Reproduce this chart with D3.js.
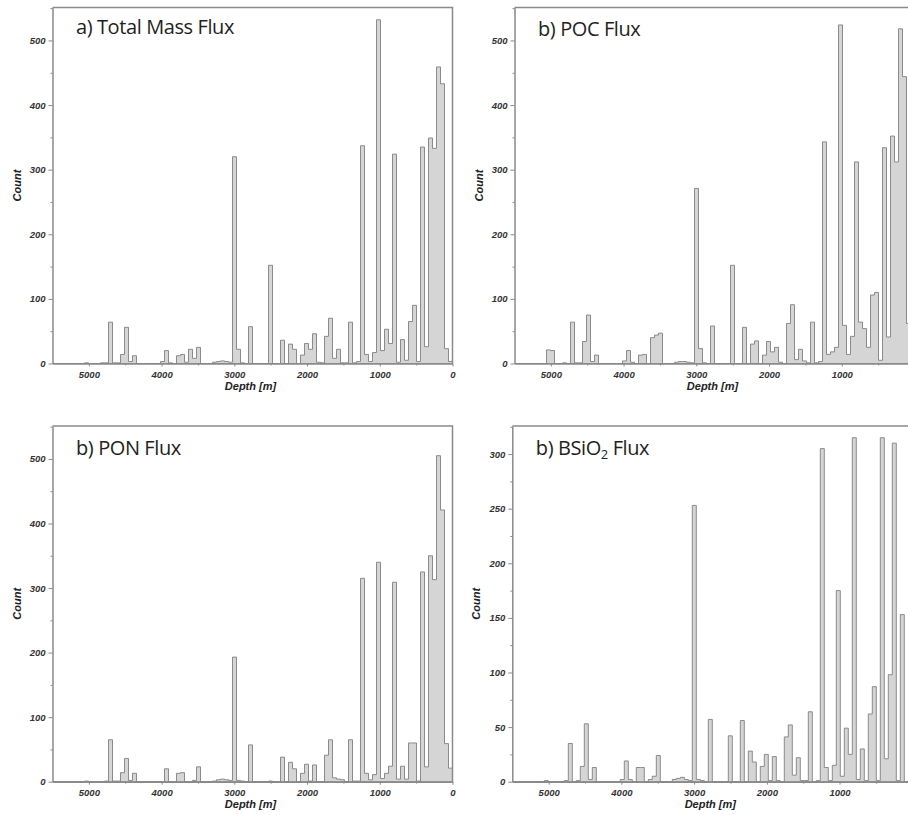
<!DOCTYPE html>
<html><head><meta charset="utf-8">
<script src="https://cdn.jsdelivr.net/npm/d3@7"></script>
<style>
body{margin:0;background:#fff;}
svg{display:block;}
.axis text{font-family:"Liberation Sans",Arial,sans-serif;font-weight:bold;font-style:italic;font-size:9.5px;fill:#333;}
.axis path,.axis line{stroke:#8a8a8a;}
.lbl{font-family:"Liberation Sans",Arial,sans-serif;font-weight:bold;font-style:italic;font-size:11px;fill:#222;}
.title{font-family:"Open Sans","Noto Sans",sans-serif;font-size:20px;letter-spacing:-0.4px;fill:#231f20;}
</style></head><body>
<svg id="chart" width="908" height="815"></svg>
<script>
// histogram bins: 55 m wide, index 0 = 0-55 m, increasing with depth
const binWidth = 55;
const totalMassCounts = [
  3, 23, 433, 459, 333, 349, 26, 335, 3, 90,
  65, 5, 37, 2, 324, 31, 53, 20, 532, 17,
  3, 14, 337, 3, 1, 64, 1, 1, 22, 8,
  70, 42, 1, 2, 46, 22, 31, 13, 0, 22,
  30, 0, 36, 0, 0, 152, 0, 0, 0, 0,
  57, 0, 1, 22, 320, 2, 3, 4, 3, 2,
  0, 0, 0, 25, 8, 22, 2, 14, 12, 0,
  1, 20, 3, 0, 0, 0, 0, 0, 0, 12,
  3, 56, 14, 1, 1, 64, 1, 1, 0, 0,
  0, 1, 0, 0, 0, 0, 0, 0, 0, 0];
const pocCounts = [
  60, 62, 444, 518, 312, 352, 41, 334, 5, 110,
  106, 25, 54, 64, 312, 42, 14, 59, 524, 25,
  18, 14, 343, 3, 1, 64, 1, 4, 22, 6,
  91, 62, 0, 2, 25, 18, 34, 13, 0, 35,
  30, 0, 56, 0, 0, 152, 0, 0, 0, 0,
  58, 0, 1, 23, 271, 1, 2, 3, 3, 2,
  0, 0, 0, 47, 44, 40, 0, 14, 13, 0,
  2, 20, 4, 0, 0, 0, 0, 0, 0, 13,
  3, 75, 34, 1, 1, 64, 0, 1, 0, 0,
  20, 21, 0, 0, 0, 0, 0, 0, 0, 0];
const ponCounts = [
  21, 59, 421, 505, 313, 350, 23, 325, 1, 60,
  60, 4, 24, 4, 309, 24, 13, 5, 340, 11,
  3, 13, 315, 1, 1, 65, 0, 3, 4, 6,
  65, 41, 0, 0, 26, 1, 27, 13, 0, 20,
  30, 0, 38, 0, 0, 1, 0, 0, 0, 0,
  57, 0, 1, 2, 193, 2, 3, 4, 3, 1,
  0, 0, 0, 23, 2, 0, 0, 14, 13, 0,
  0, 20, 0, 0, 0, 0, 0, 0, 0, 13,
  2, 36, 14, 1, 1, 65, 1, 0, 0, 0,
  0, 1, 0, 0, 0, 0, 0, 0, 0, 0];
const bsio2Counts = [
  0, 0, 153, 1, 310, 98, 21, 315, 1, 87,
  62, 1, 30, 2, 315, 25, 49, 5, 175, 15,
  1, 13, 305, 1, 0, 64, 1, 1, 22, 6,
  52, 41, 0, 1, 23, 1, 25, 14, 0, 18,
  28, 0, 56, 0, 0, 42, 0, 0, 0, 0,
  57, 0, 1, 2, 253, 1, 2, 4, 3, 2,
  0, 0, 0, 24, 5, 2, 0, 13, 13, 0,
  2, 19, 2, 0, 0, 0, 0, 0, 0, 13,
  2, 53, 14, 1, 0, 35, 1, 0, 0, 0,
  0, 1, 0, 0, 0, 0, 0, 0, 0, 0];

const depthTicks = [5000, 4000, 3000, 2000, 1000, 0];
const depthMinorTicks = [4500, 3500, 2500, 1500, 500];
const countTicksLarge = [0, 100, 200, 300, 400, 500];
const countMinorLarge = [50, 150, 250, 350, 450, 550];
const countTicksSmall = [0, 50, 100, 150, 200, 250, 300];
const countMinorSmall = [25, 75, 125, 175, 225, 275, 325];
const titles = ["a) Total Mass Flux", "b) POC Flux", "b) PON Flux", "b) BSiO2 Flux"];
const xLabel = "Depth [m]";
const yLabel = "Count";

const W = 908;
const panels = [
  {counts: totalMassCounts, title: titles[0], left: 52.5, right: 452.5, top: 7.5, bottom: 363.5, yMax: 551, ticks: countTicksLarge, minor: countMinorLarge, ty: 34},
  {counts: pocCounts, title: titles[1], left: 514.5, right: 914.5, top: 7.5, bottom: 363.5, yMax: 551, ticks: countTicksLarge, minor: countMinorLarge, ty: 36},
  {counts: ponCounts, title: titles[2], left: 52.5, right: 452.5, top: 426, bottom: 781.7, yMax: 551, ticks: countTicksLarge, minor: countMinorLarge, ty: 455},
  {counts: bsio2Counts, title: titles[3], left: 512.3, right: 912.3, top: 426, bottom: 781.7, yMax: 325.7, ticks: countTicksSmall, minor: countMinorSmall, ty: 455}
];

const svg = d3.select("#chart");

panels.forEach((p, pi) => {
  const g = svg.append("g");
  const x = d3.scaleLinear().domain([5500, 0]).range([p.left, p.right]);
  const y = d3.scaleLinear().domain([0, p.yMax]).range([p.bottom, p.top]);

  const allBins = p.counts.map((c, i) => ({d0: i * binWidth, d1: (i + 1) * binWidth, c}));

  // histogram as one filled step polygon (deep -> shallow, left -> right)
  const ordered = allBins.slice().reverse();
  const pts = [[x(ordered[0].d1), y(0)]];
  ordered.forEach(b => { pts.push([x(b.d1), y(b.c)]); pts.push([x(b.d0), y(b.c)]); });
  pts.push([x(0), y(0)]);
  g.append("path")
    .attr("class", "hist")
    .attr("d", d3.line()(pts) + "Z")
    .attr("fill", "#d5d5d5")
    .attr("stroke", "#808080")
    .attr("stroke-width", 0.9)
    .attr("stroke-linejoin", "miter");

  // frame: top and right
  g.append("path")
    .attr("d", `M${p.left},${p.top}H${p.right}V${p.bottom}`)
    .attr("fill", "none").attr("stroke", "#8a8a8a").attr("stroke-width", 1.5);

  // minor ticks
  const yMinor = g.append("g").attr("class", "axis")
    .attr("transform", `translate(${p.left},0)`)
    .call(d3.axisLeft(y).tickValues(p.minor.filter(v => v <= p.yMax)).tickSize(2).tickFormat(""));
  yMinor.select(".domain").remove();
  yMinor.selectAll("line").attr("stroke", "#c8c8c8");

  const xMinor = g.append("g").attr("class", "axis")
    .attr("transform", `translate(0,${p.bottom})`)
    .call(d3.axisBottom(x).tickValues(depthMinorTicks).tickSize(2).tickFormat(""));
  xMinor.select(".domain").remove();
  xMinor.selectAll("line").attr("stroke", "#b0b0b0");

  const yAxis = g.append("g").attr("class", "axis")
    .attr("transform", `translate(${p.left},0)`)
    .call(d3.axisLeft(y).tickValues(p.ticks).tickSize(4).tickPadding(3).tickSizeOuter(0).tickFormat(d3.format("d")));
  yAxis.select(".domain").attr("stroke-width", 1.5);

  const xAxis = g.append("g").attr("class", "axis")
    .attr("transform", `translate(0,${p.bottom})`)
    .call(d3.axisBottom(x).tickValues(depthTicks.filter(v => x(v) < W - 4))
      .tickSize(3).tickPadding(5).tickSizeOuter(0).tickFormat(d3.format("d")));
  xAxis.select(".domain").attr("stroke-width", 1.5);

  // axis labels
  g.append("text").attr("class", "lbl")
    .attr("transform", `translate(${p.left - 32},${(p.top + p.bottom) / 2}) rotate(-90)`)
    .attr("text-anchor", "middle").text(yLabel);
  g.append("text").attr("class", "lbl")
    .attr("x", (p.left + p.right) / 2 - 2).attr("y", p.bottom + 26)
    .attr("text-anchor", "middle").text(xLabel);

  // title
  const t = g.append("text").attr("class", "title")
    .attr("x", p.left + 23.5).attr("y", p.ty);
  if (p.title.indexOf("BSiO2") >= 0) {
    t.append("tspan").text("b) BSiO");
    t.append("tspan").attr("font-size", "13px").attr("dy", 4).text("2");
    t.append("tspan").attr("dy", -4).text(" Flux");
  } else {
    t.text(p.title);
  }
});
</script>
</body></html>
